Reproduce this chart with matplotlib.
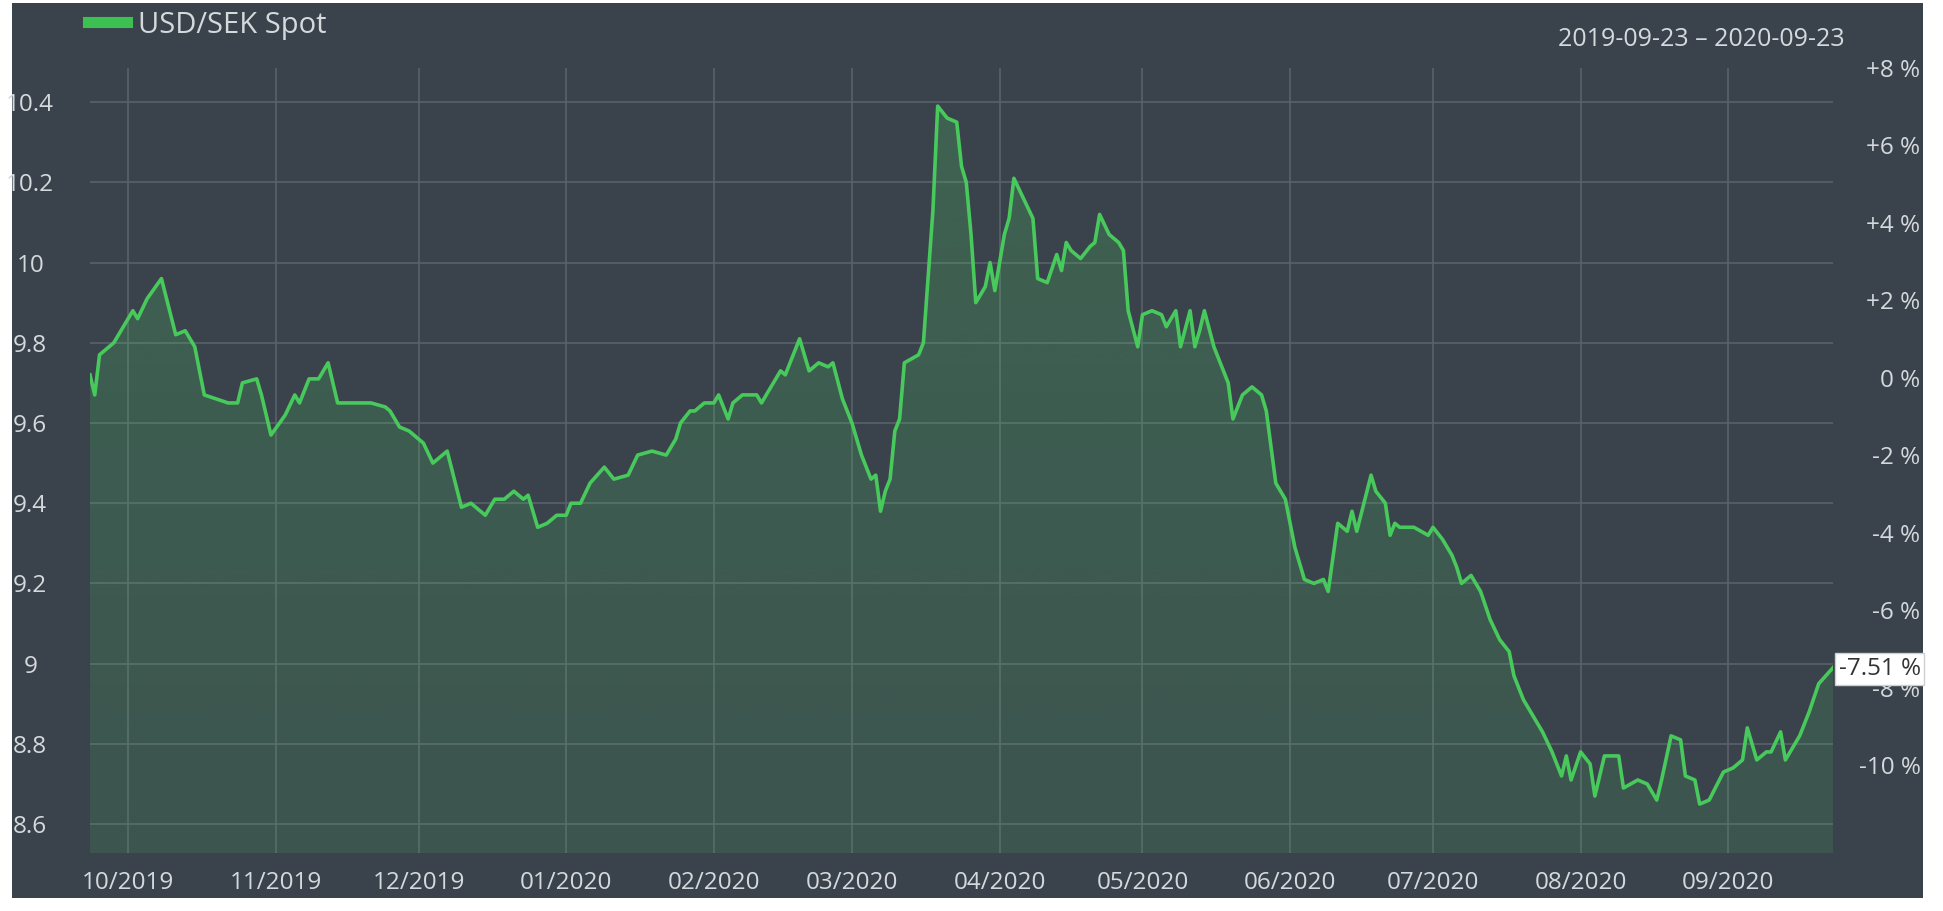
import matplotlib
matplotlib.use("Agg")
import matplotlib.pyplot as plt
import matplotlib.dates as mdates
import matplotlib.ticker as mticker
from matplotlib.lines import Line2D
from matplotlib.patches import Rectangle
from matplotlib.colors import to_rgb
import numpy as np
import pandas as pd

plt.rcParams["font.family"] = ["Open Sans", "DejaVu Sans"]

# ---------------- data ----------------
series_name = "USD/SEK Spot"
start_date = "2019-09-23"
end_date = "2020-09-23"
range_label = "2019-09-23 \u2013 2020-09-23"
change_label = "-7.51 %"

days_since_start = [
    0, 1, 2, 5, 7, 9, 10, 12, 15, 18, 20, 22, 24, 29, 31, 32, 35, 36, 38,
    41, 43, 44, 46, 48, 50, 52, 57, 59, 62, 63, 65, 67,
    70, 72, 75, 78, 80, 83, 85, 87, 89, 91, 92, 94, 96, 98,
    100, 101, 103, 105, 108, 110, 113, 115, 118, 121, 123, 124, 126, 127, 129,
    131, 132, 134, 135, 137, 140, 141, 143, 145, 146, 148, 149, 151, 153, 155, 156, 158,
    160, 162, 164, 165, 166, 167, 168, 169, 170, 171, 174, 175, 177, 178, 180, 182, 183, 184, 185, 186, 188, 189, 190,
    192, 193, 194, 196, 198, 199, 201, 203, 204, 205, 206, 208, 210, 211, 212, 214, 216, 217, 218, 220,
    221, 223, 225, 226, 228, 229, 231, 232, 233, 234, 236, 238, 239, 240, 242, 244, 246, 247, 249, 251,
    252, 253, 255, 257, 259, 260, 262, 264, 265, 266, 269, 270, 272, 273, 274, 275, 278, 281,
    282, 284, 286, 287, 288, 290, 292, 294, 296, 298, 299, 301, 303, 305, 307, 309, 310, 311,
    313, 315, 316, 318, 321, 322, 325, 327, 329, 330, 332, 334, 335, 337, 338, 340, 343,
    345, 347, 348, 350, 352, 353, 355, 356, 359, 361, 363, 366,
]

usd_sek = [
    9.72, 9.67, 9.77, 9.80, 9.84, 9.88, 9.86, 9.91, 9.96, 9.82, 9.83, 9.79, 9.67, 9.65, 9.65, 9.70, 9.71, 9.67, 9.57,
    9.62, 9.67, 9.65, 9.71, 9.71, 9.75, 9.65, 9.65, 9.65, 9.64, 9.63, 9.59, 9.58,
    9.55, 9.50, 9.53, 9.39, 9.40, 9.37, 9.41, 9.41, 9.43, 9.41, 9.42, 9.34, 9.35, 9.37,
    9.37, 9.40, 9.40, 9.45, 9.49, 9.46, 9.47, 9.52, 9.53, 9.52, 9.56, 9.60, 9.63, 9.63, 9.65,
    9.65, 9.67, 9.61, 9.65, 9.67, 9.67, 9.65, 9.69, 9.73, 9.72, 9.78, 9.81, 9.73, 9.75, 9.74, 9.75, 9.66,
    9.60, 9.52, 9.46, 9.47, 9.38, 9.43, 9.46, 9.58, 9.61, 9.75, 9.77, 9.80, 10.13, 10.39, 10.36, 10.35, 10.24, 10.20, 10.07, 9.90, 9.94, 10.00, 9.93,
    10.07, 10.11, 10.21, 10.16, 10.11, 9.96, 9.95, 10.02, 9.98, 10.05, 10.03, 10.01, 10.04, 10.05, 10.12, 10.07, 10.05, 10.03, 9.88, 9.79,
    9.87, 9.88, 9.87, 9.84, 9.88, 9.79, 9.88, 9.79, 9.83, 9.88, 9.79, 9.73, 9.70, 9.61, 9.67, 9.69, 9.67, 9.63, 9.45, 9.41,
    9.35, 9.29, 9.21, 9.20, 9.21, 9.18, 9.35, 9.33, 9.38, 9.33, 9.47, 9.43, 9.40, 9.32, 9.35, 9.34, 9.34, 9.32,
    9.34, 9.31, 9.27, 9.24, 9.20, 9.22, 9.18, 9.11, 9.06, 9.03, 8.97, 8.91, 8.87, 8.83, 8.78, 8.72, 8.77, 8.71,
    8.78, 8.75, 8.67, 8.77, 8.77, 8.69, 8.71, 8.70, 8.66, 8.71, 8.82, 8.81, 8.72, 8.71, 8.65, 8.66, 8.73,
    8.74, 8.76, 8.84, 8.76, 8.78, 8.78, 8.83, 8.76, 8.82, 8.88, 8.95, 8.99,
]

value_ticks = [8.6, 8.8, 9.0, 9.2, 9.4, 9.6, 9.8, 10.0, 10.2, 10.4]
pct_ticks = [-10, -8, -6, -4, -2, 0, 2, 4, 6, 8]
month_ticks = pd.date_range("2019-10-01", "2020-09-01", freq="MS")

# ---------------- style ----------------
W, H = 1943, 911
bg = "#3a424c"
green = "#48c95c"
txt = "#d4d9dc"
grid_c = "#59626b"
fs = 17.5

dates = pd.Timestamp(start_date) + pd.to_timedelta(days_since_start, unit="D")
values = np.array(usd_sek)
base = values[0]

fig = plt.figure(figsize=(W / 100, H / 100), dpi=100, facecolor="white")
fig.patches.append(Rectangle((12 / W, 13 / H), (1923 - 12) / W, (H - 13 - 3) / H,
                             transform=fig.transFigure, facecolor=bg,
                             edgecolor="none", zorder=-10))

ax = fig.add_axes([90 / W, 58 / H, (1833 - 90) / W, (853 - 68) / H])
ax.set_facecolor("none")
ymin, ymax = 8.528, 10.485
x0, x1 = pd.Timestamp(start_date), pd.Timestamp(end_date)

# gradient area fill
poly = ax.fill_between(dates, values, ymin, facecolor="none", edgecolor="none")
grad = np.zeros((256, 1, 4))
grad[..., :3] = to_rgb("#4cc462")
grad[:, 0, 3] = np.linspace(0.15, 0.25, 256)
im = ax.imshow(grad, aspect="auto", origin="lower", zorder=1,
               extent=[mdates.date2num(x0), mdates.date2num(x1), ymin, values.max()])
im.set_clip_path(poly.get_paths()[0], transform=ax.transData)

ax.plot(dates, values, color=green, lw=2.6, zorder=3)

ax.set_xlim(x0, x1)
ax.set_ylim(ymin, ymax)

for s in ax.spines.values():
    s.set_visible(False)

ax.set_yticks(value_ticks)
ax.yaxis.set_major_formatter(mticker.FuncFormatter(lambda v, p: f"{v:g}"))
ax.set_xticks(month_ticks)
ax.xaxis.set_major_formatter(mdates.DateFormatter("%m/%Y"))
ax.tick_params(axis="both", length=0, colors=txt, labelsize=fs)
ax.tick_params(axis="y", pad=43)
ax.tick_params(axis="x", pad=13)
for lab in ax.get_yticklabels():
    lab.set_horizontalalignment("center")
ax.grid(True, color=grid_c, alpha=1.0, lw=1.2, zorder=0)
ax.set_axisbelow(True)

# right percent axis
ax2 = ax.twinx()
ax2.set_ylim((ymin / base - 1) * 100, (ymax / base - 1) * 100)
ax2.set_yticks(pct_ticks)
ax2.set_yticklabels([("+" if p > 0 else "") + f"{p} %" for p in pct_ticks])
ax2.tick_params(axis="y", length=0, colors=txt, labelsize=fs, pad=63)
for lab in ax2.get_yticklabels():
    lab.set_horizontalalignment("right")
for s in ax2.spines.values():
    s.set_visible(False)

last_pct = (values[-1] / base - 1) * 100
ax2.annotate(change_label, xy=(1.0, last_pct), xycoords=("axes fraction", "data"),
             xytext=(4, 0), textcoords="offset points", ha="left", va="center",
             fontsize=fs, color="#333333", zorder=10, annotation_clip=False,
             bbox=dict(boxstyle="square,pad=0.15", fc="white", ec="#cfcfcf", lw=1))

# legend and range label
leg = ax.legend(handles=[Line2D([], [], color="#3cc052", lw=8)], labels=[series_name],
                loc="center left", bbox_to_anchor=(88 / W, 1 - 25 / H),
                bbox_transform=fig.transFigure, frameon=False, fontsize=21,
                handlelength=1.35, handletextpad=0.35, borderaxespad=0, borderpad=0)
for t in leg.get_texts():
    t.set_color(txt)

fig.text(1845 / W, 1 - 40 / H, range_label, ha="right", va="center",
         fontsize=18, color=txt)

fig.savefig("out.png", dpi=100, facecolor="white")
